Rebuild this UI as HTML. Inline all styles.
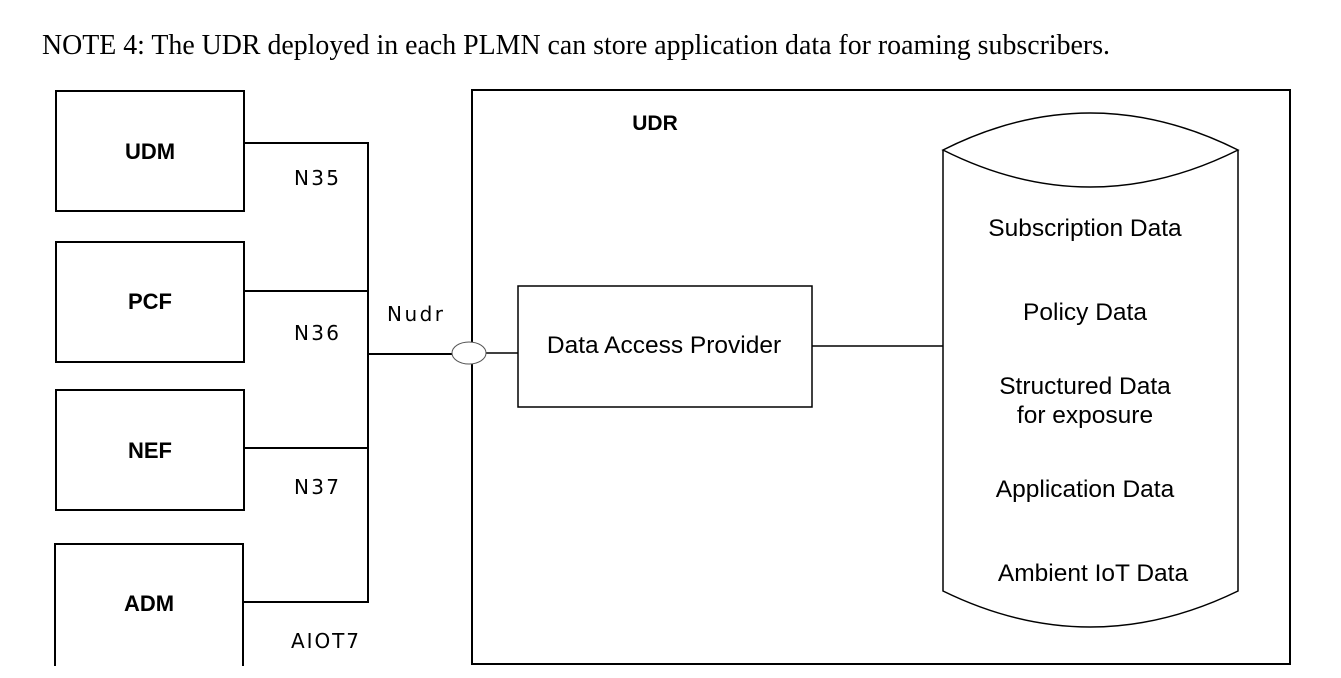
<!DOCTYPE html>
<html><head><meta charset="utf-8"><style>
html,body{margin:0;padding:0;background:#fff;}
svg{display:block}
</style></head><body>
<svg width="1341" height="678" viewBox="0 0 1341 678" xmlns="http://www.w3.org/2000/svg">
<text x="42" y="54" font-family="Liberation Serif, serif" font-size="28" textLength="1068" lengthAdjust="spacingAndGlyphs">NOTE 4:  The UDR deployed in each PLMN can store application data for roaming subscribers.</text>
<g fill="none" stroke="#000" stroke-width="2">
<rect x="56" y="91" width="188" height="120"/>
<rect x="56" y="242" width="188" height="120"/>
<rect x="56" y="390" width="188" height="120"/>
<path d="M55 666 V544 H243 V666"/>
<path d="M244 143 H368 V602 H243"/>
<path d="M244 291 H368"/>
<path d="M244 448 H368"/>
<path d="M368 354 H452"/>
<rect x="472" y="90" width="818" height="574"/>
<rect x="518" y="286" width="294" height="121" stroke-width="1.5"/>
<path d="M486 353 H518" stroke-width="1.5"/>
<path d="M812 346 H943" stroke-width="1.5"/>
<path d="M943 150 V591 Q1090 663 1238 591 V150" stroke-width="1.5"/>
<path d="M943 150 Q1090 76 1238 150 Q1090 224 943 150 Z" stroke-width="1.5"/>
</g>
<ellipse cx="469" cy="353" rx="17" ry="11" fill="#fff" stroke="#555" stroke-width="1"/>
<g font-family="Liberation Sans, sans-serif" font-weight="bold" font-size="22" text-anchor="middle">
<text x="150" y="159">UDM</text>
<text x="150" y="309">PCF</text>
<text x="150" y="458">NEF</text>
<text x="149" y="611">ADM</text>
<text x="655" y="130" font-size="21">UDR</text>
</g>
<g font-family="DejaVu Sans, sans-serif" font-size="20">
<text x="294" y="185" textLength="45">N35</text>
<text x="294" y="340" textLength="45">N36</text>
<text x="294" y="494" textLength="45">N37</text>
<text x="291" y="648" textLength="68">AIOT7</text>
<text x="387" y="321" textLength="56">Nudr</text>
</g>
<g font-family="Liberation Sans, sans-serif" font-size="24.5" text-anchor="middle">
<text x="664" y="353">Data Access Provider</text>
<text x="1085" y="236">Subscription Data</text>
<text x="1085" y="320">Policy Data</text>
<text x="1085" y="394">Structured Data</text>
<text x="1085" y="423">for exposure</text>
<text x="1085" y="497">Application Data</text>
<text x="1093" y="581">Ambient IoT Data</text>
</g>
</svg>
</body></html>
